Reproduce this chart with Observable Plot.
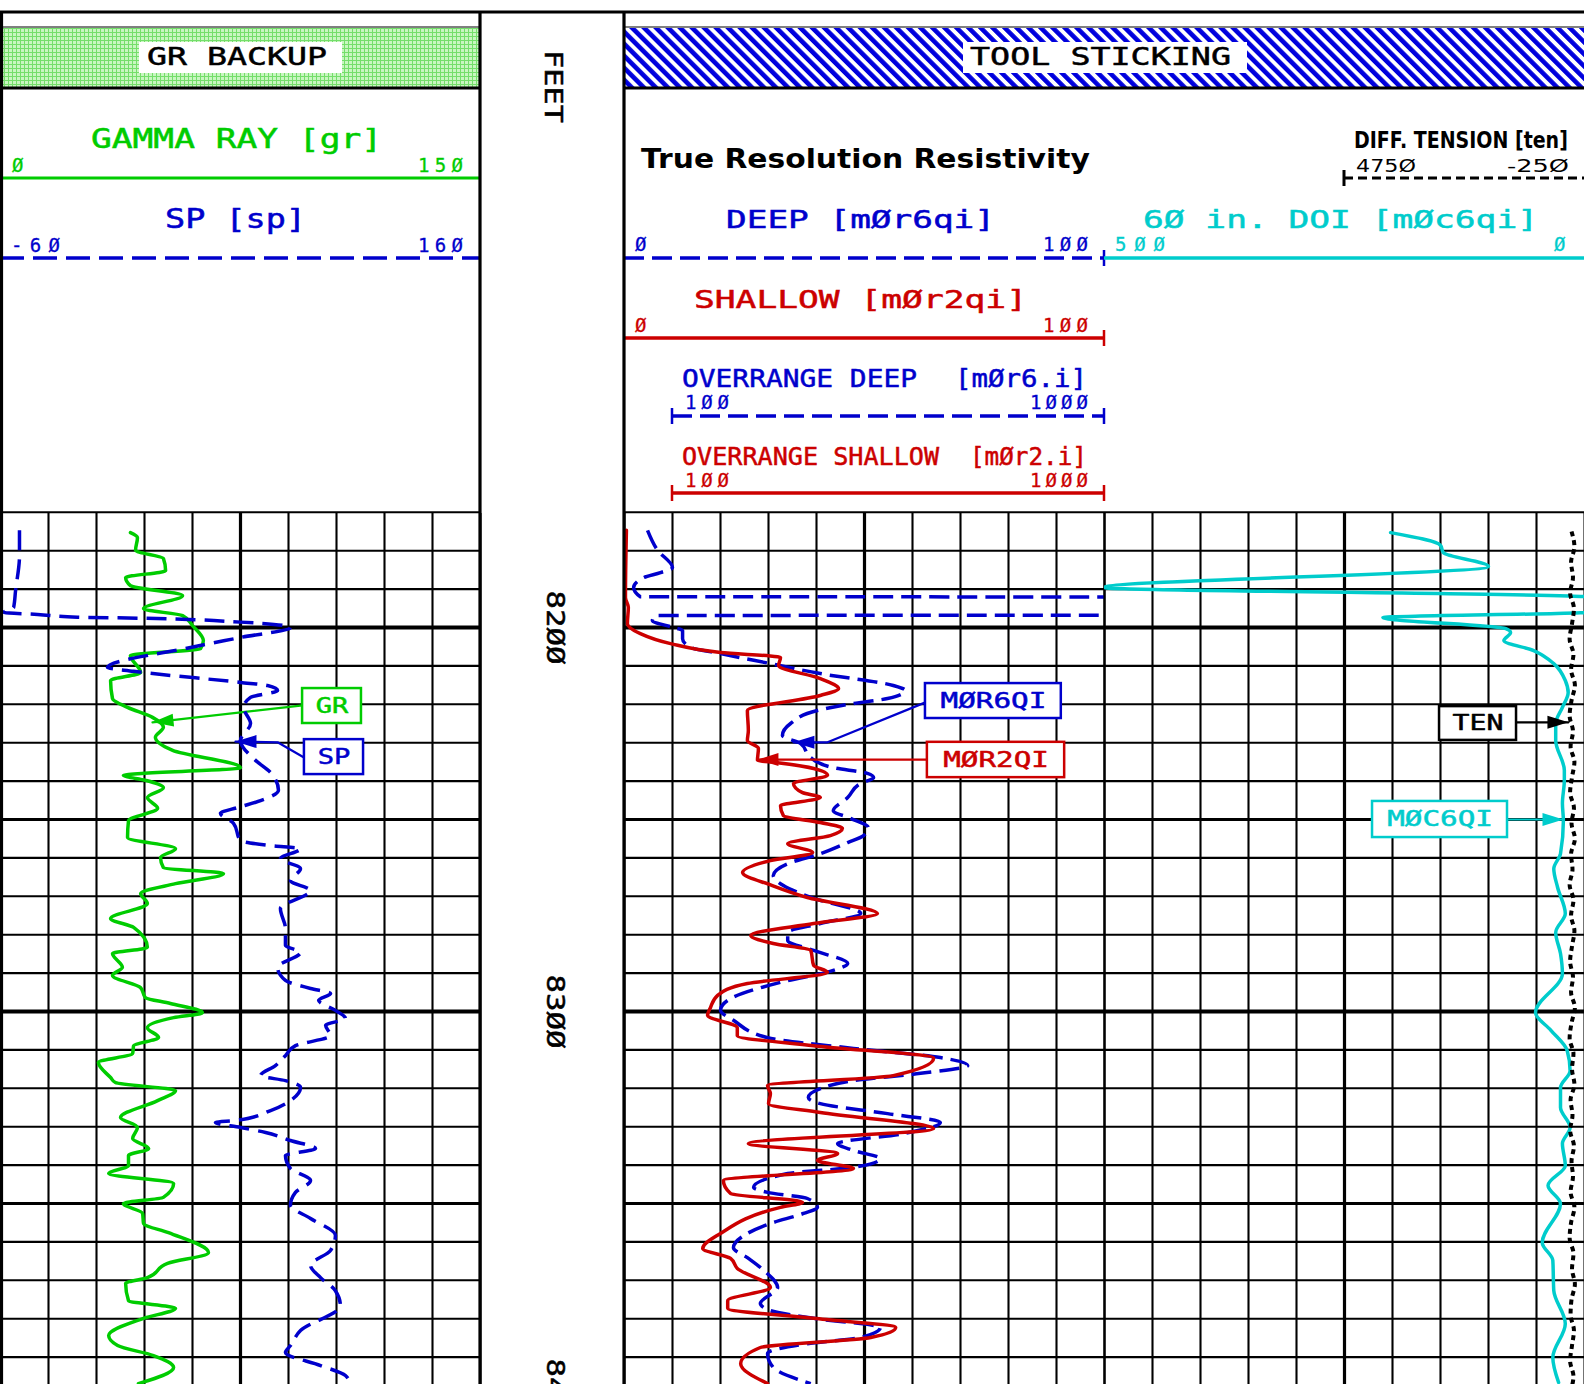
<!DOCTYPE html>
<html><head><meta charset="utf-8">
<script src="https://cdn.jsdelivr.net/npm/d3@7"></script>
<script src="https://cdn.jsdelivr.net/npm/@observablehq/plot@0.6"></script>
<style>
html,body{margin:0;padding:0;background:#fff;}
#root{position:relative;width:1584px;height:1384px;overflow:hidden;background:#fff;}
#root svg{position:absolute;}
</style></head><body><div id="root"></div>
<script>
// ---------------- DATA ----------------
const depthLabels = [8200, 8300, 8400];
// [depth ft, GR api]
const grLog = [[8175.3,40.6],[8176.6,42.8],[8179.9,42.2],[8182.0,50.9],[8185.2,51.6],[8187.0,39.1],[8189.1,40.6],[8191.7,56.9],[8195.1,44.7],[8196.9,56.9],[8199.5,60.0],[8203.4,63.4],[8205.5,62.5],[8207.3,40.6],[8211.7,43.8],[8213.8,34.4],[8218.5,35.0],[8220.8,39.7],[8223.4,47.5],[8226.0,50.9],[8228.6,48.4],[8232.0,53.8],[8236.5,75.0],[8238.5,38.4],[8239.8,45.3],[8241.7,50.9],[8244.3,45.9],[8247.1,49.1],[8250.3,40.0],[8254.7,39.7],[8257.6,54.7],[8259.9,50.0],[8262.5,50.9],[8264.1,69.7],[8266.7,54.7],[8269.3,43.8],[8271.9,45.9],[8275.8,34.4],[8278.1,41.6],[8283.3,45.9],[8284.9,35.0],[8288.5,38.1],[8290.6,35.0],[8293.8,43.8],[8296.4,45.3],[8297.9,53.1],[8300.3,63.1],[8301.6,54.1],[8304.2,45.9],[8306.8,49.4],[8308.9,41.6],[8310.9,41.3],[8313.3,30.6],[8317.2,34.4],[8318.5,35.9],[8320.6,54.7],[8323.2,49.1],[8327.6,37.5],[8330.2,42.8],[8333.1,41.3],[8335.7,46.3],[8337.5,40.0],[8340.1,40.0],[8342.2,33.8],[8344.8,54.1],[8348.4,50.9],[8350.0,38.4],[8352.6,44.4],[8355.2,44.7],[8357.6,52.5],[8362.8,65.0],[8365.6,52.2],[8369.3,45.9],[8370.8,39.1],[8375.3,40.0],[8377.3,54.7],[8379.9,44.7],[8384.4,33.8],[8387.0,36.6],[8389.6,47.8],[8392.7,54.1],[8396.9,43.1]];
// [depth ft, SP mV]
const spLog = [[8174.7,-51.3],[8181.3,-51.3],[8190.4,-53.1],[8194.8,-54.0],[8196.1,-58.6],[8196.6,-43.0],[8197.3,-24.7],[8197.6,5.6],[8198.6,50.0],[8200.0,72.9],[8202.6,50.0],[8205.2,27.1],[8210.4,-11.0],[8211.4,1.0],[8214.3,50.0],[8215.1,62.4],[8216.4,67.0],[8218.2,54.6],[8220.8,51.4],[8225.0,54.6],[8229.4,50.0],[8234.6,56.9],[8237.8,63.8],[8242.4,67.4],[8245.1,59.2],[8246.9,48.6],[8248.4,40.8],[8251.0,46.8],[8255.5,50.0],[8256.8,63.8],[8257.6,77.5],[8260.2,68.3],[8262.8,77.5],[8265.9,72.9],[8268.5,82.1],[8273.2,68.3],[8278.4,70.6],[8282.8,70.6],[8284.6,77.5],[8288.5,67.0],[8291.9,70.6],[8294.0,82.1],[8295.3,91.3],[8297.1,85.8],[8299.7,93.5],[8301.8,98.1],[8303.6,89.0],[8306.3,91.3],[8308.9,75.2],[8311.5,70.6],[8314.1,66.0],[8316.7,59.2],[8318.0,70.6],[8319.8,77.5],[8323.2,72.9],[8325.8,63.8],[8328.4,47.7],[8328.9,38.5],[8330.2,50.0],[8331.5,61.5],[8333.6,72.9],[8335.7,84.4],[8337.5,70.6],[8340.9,72.9],[8344.0,82.1],[8347.1,75.2],[8350.5,72.9],[8353.9,82.1],[8358.3,93.5],[8362.2,91.3],[8366.1,82.1],[8369.3,86.7],[8372.7,93.5],[8376.6,95.8],[8383.1,77.5],[8387.0,72.9],[8388.8,70.6],[8392.2,86.7],[8394.8,98.1],[8397.1,100.4]];
// [depth ft, deep resistivity ohm.m] (values above 100 run off scale)
const deepLog = [[8174.7,4.8],[8179.9,6.9],[8184.4,10.0],[8185.7,7.5],[8187.0,4.0],[8189.6,1.9],[8192.0,3.3],[8192.2,1500],[8196.2,1500],[8196.9,6.5],[8198.2,5.8],[8200.0,10.2],[8200.8,12.1],[8202.9,12.1],[8205.2,13.8],[8206.8,20.0],[8209.4,30.4],[8212.0,40.8],[8215.1,56.0],[8216.4,58.5],[8218.5,54.8],[8219.8,47.7],[8221.6,40.2],[8225.0,34.6],[8228.1,32.9],[8230.2,36.7],[8233.9,38.8],[8236.5,43.5],[8238.0,50.6],[8239.1,51.9],[8240.6,49.2],[8244.3,46.5],[8247.7,43.5],[8249.7,47.1],[8252.1,50.8],[8254.2,49.8],[8256.0,46.5],[8258.9,40.8],[8261.5,34.0],[8264.6,31.0],[8267.2,33.1],[8270.3,38.8],[8274.5,49.2],[8277.1,40.8],[8279.4,34.0],[8281.5,34.0],[8284.1,39.4],[8287.5,46.5],[8289.3,43.5],[8292.4,32.5],[8297.1,21.5],[8299.7,20.0],[8302.3,22.7],[8306.8,29.8],[8309.6,47.7],[8312.0,65.8],[8314.1,71.5],[8316.1,61.7],[8318.0,47.7],[8320.1,40.8],[8322.4,38.3],[8324.0,40.8],[8326.6,54.8],[8328.9,65.8],[8331.8,58.1],[8334.4,44.4],[8336.2,47.7],[8338.3,53.3],[8340.6,47.7],[8342.2,34.0],[8345.8,26.9],[8347.1,29.8],[8348.7,38.1],[8351.0,40.2],[8352.6,37.3],[8355.2,30.4],[8357.8,25.6],[8361.5,22.7],[8364.1,25.6],[8367.4,29.0],[8371.9,31.9],[8376.0,28.3],[8377.9,30.4],[8379.9,39.4],[8382.3,53.3],[8384.9,49.2],[8386.5,38.1],[8389.1,29.8],[8392.7,31.0],[8396.9,38.8]];
// [depth ft, shallow resistivity ohm.m]
const shallowLog = [[8174.7,0.4],[8192.2,0.2],[8194.8,0.8],[8199.0,0.6],[8201.6,3.3],[8204.2,9.6],[8206.5,20.0],[8207.8,32.5],[8209.9,32.1],[8213.3,40.8],[8215.9,44.6],[8217.7,40.8],[8221.6,25.6],[8226.8,25.8],[8229.4,25.6],[8231.5,27.9],[8234.6,27.7],[8235.2,31.9],[8236.7,39.4],[8238.5,42.3],[8240.6,35.2],[8243.0,37.1],[8244.3,40.8],[8246.4,32.5],[8249.0,33.1],[8250.8,40.8],[8252.3,45.4],[8254.2,42.9],[8256.3,34.0],[8258.6,39.2],[8260.7,30.4],[8263.8,24.6],[8267.2,30.8],[8270.3,38.1],[8274.5,52.7],[8277.1,39.4],[8280.2,26.3],[8282.3,31.0],[8284.1,38.8],[8288.0,39.4],[8289.8,42.3],[8292.7,25.6],[8295.8,19.4],[8299.0,17.9],[8301.0,17.3],[8304.2,23.5],[8306.3,23.5],[8308.9,39.4],[8312.2,64.4],[8316.7,56.0],[8319.3,29.8],[8321.4,30.4],[8324.0,30.0],[8326.3,40.8],[8330.5,64.4],[8334.4,25.8],[8337.0,44.4],[8338.8,40.2],[8340.9,47.7],[8344.0,20.6],[8347.4,22.1],[8349.7,37.1],[8351.0,32.5],[8357.8,20.0],[8361.7,16.3],[8364.3,22.1],[8366.9,23.5],[8371.9,30.4],[8375.3,21.5],[8377.3,21.5],[8379.9,39.4],[8382.3,56.5],[8384.9,51.3],[8387.5,28.3],[8391.7,24.2],[8396.9,29.8]];
// [depth ft, 60 in. DOI resistivity] (scale 500 -> 0)
const doiLog = [[8175.3,202],[8178.6,150],[8180.5,147],[8184.1,100],[8189.6,501],[8192.1,-5],[8196.0,-5],[8197.4,210],[8200.3,82],[8201.3,77],[8203.4,84],[8206.0,53],[8209.4,32],[8213.8,20],[8216.9,17],[8220.8,23],[8225.0,30],[8229.4,30],[8237.2,21],[8239.8,21],[8245.8,23],[8250.3,22],[8258.9,25],[8262.8,32],[8267.7,28],[8274.5,20],[8279.4,30],[8284.9,25],[8290.1,23],[8300.3,51],[8304.9,35],[8310.2,18],[8315.4,15],[8319.8,25],[8325.0,25],[8330.2,15],[8334.4,23],[8340.1,20],[8345.3,38],[8350.0,25],[8360.2,44],[8364.8,33],[8372.7,32],[8381.3,20],[8390.1,33],[8396.6,27]];
// [depth ft, differential tension] (scale 4750 -> -250)
const tenLog = [[8175,20],[8179,-40],[8183,30],[8187,-10],[8191,50],[8195,-30],[8199,10],[8203,60],[8207,-20],[8211,30],[8215,-50],[8219,20],[8223,60],[8227,-10],[8231,40],[8235,-40],[8239,10],[8243,50],[8247,-30],[8251,20],[8255,-50],[8259,30],[8263,0],[8267,60],[8271,-20],[8275,30],[8279,-40],[8283,10],[8287,50],[8291,-10],[8295,30],[8299,-50],[8303,20],[8307,60],[8311,-20],[8315,10],[8319,-40],[8323,40],[8327,0],[8331,50],[8335,-30],[8339,20],[8343,-10],[8347,40],[8351,-40],[8355,30],[8359,60],[8363,-20],[8367,10],[8371,-50],[8375,20],[8379,40],[8383,-30],[8387,10],[8391,50],[8395,-20],[8398,20]];
const calloutLabels = ["GR","SP","MØR6QI","MØR2QI","TEN","MØC6QI"];

// ---------------- LAYOUT / STYLE ----------------
const GREEN="#00cc00", BLUE="#0000cc", RED="#cc0000", CYAN="#00cccc", BLACK="#000";
const MONO = "DejaVu Sans Mono, monospace", SANS = "DejaVu Sans, sans-serif";
const D_TOP = 8170.3125, D_BOT = 8397.135;
const calloutColors = [GREEN, BLUE, BLUE, RED, BLACK, CYAN];
// box: [x1, x2, depth1, depth2] in the track's own units; path ends at arrow tip
const calloutLayout = [
  {box:[94.4,112.8,8215.9,8225.0], path:[[94.4,8220.3],[47.5,8224.7]], rot:-96},
  {box:[79.3,106.4,8229.2,8238.3], path:[[79.3,8233.9],[67.0,8229.9],[47.7,8229.7]], rot:-90},
  {box:[62.7,91.0,8214.6,8223.7], path:[[62.7,8219.5],[42.3,8229.9],[35.2,8229.9]], rot:-90},
  {box:[63.1,91.7,8229.9,8239.1], path:[[63.1,8234.4],[27.7,8234.4]], rot:-90},
  {box:[151.0,70.8,8220.6,8229.4], path:[[70.8,8224.7],[16.7,8224.7]], rot:90},
  {box:[220.8,80.2,8245.3,8254.7], path:[[80.2,8250.0],[21.9,8250.0]], rot:90}
];

const root = document.getElementById("root");

// ---------- header + frame underlay ----------
const under = d3.select(root).append("svg").attr("width",1584).attr("height",1384).style("left","0px").style("top","0px");
const defs = under.append("defs");
const pg = defs.append("pattern").attr("id","grn").attr("patternUnits","userSpaceOnUse").attr("width",4).attr("height",4);
pg.append("rect").attr("width",4).attr("height",4).attr("fill","#c8f6c0");
pg.append("rect").attr("width",4).attr("height",1).attr("fill","#74de6a");
pg.append("rect").attr("width",1).attr("height",4).attr("fill","#74de6a");
const ph = defs.append("pattern").attr("id","hatch").attr("patternUnits","userSpaceOnUse").attr("width",8.5).attr("height",8.5).attr("patternTransform","rotate(-45)");
ph.append("rect").attr("width",8.5).attr("height",8.5).attr("fill","#fff");
ph.append("rect").attr("width",4.6).attr("height",8.5).attr("fill","#0000dd");

function L(x1,y1,x2,y2,c,w,dash){const l=under.append("line").attr("x1",x1).attr("y1",y1).attr("x2",x2).attr("y2",y2).attr("stroke",c).attr("stroke-width",w);if(dash)l.attr("stroke-dasharray",dash);return l;}
function R(x,y,w,h,f){return under.append("rect").attr("x",x).attr("y",y).attr("width",w).attr("height",h).attr("fill",f);}
function T(s,x,y,o={}){const c=o.color||BLACK;
  if (o.squeeze) { // condensed text: scale the glyphs horizontally to the measured width
    const g = under.append("g").attr("transform",`translate(${x},${y})`);
    const t = g.append("text").attr("x",0).attr("y",0).text(s).attr("font-family",o.family||MONO)
      .attr("font-size",o.size||25).attr("fill",c);
    if(o.weight)t.attr("font-weight",o.weight);
    const nat = t.node().getComputedTextLength();
    g.attr("transform",`translate(${x},${y}) scale(${o.len/nat},1)`);
    return t;
  }
  const t=under.append("text").attr("x",x).attr("y",y).text(s)
  .attr("font-family",o.family||MONO).attr("font-size",o.size||25).attr("fill",c);
  if(o.weight)t.attr("font-weight",o.weight);
  if(o.sw!==0)t.attr("stroke",c).attr("stroke-width",o.sw||0.5);
  if(o.len)t.attr("textLength",o.len).attr("lengthAdjust",o.adjust||"spacingAndGlyphs");
  return t;}

L(0,12,1584,12,BLACK,3);
L(0,27,480,27,"#555",1.5); L(624,27,1584,27,"#555",1.5);
R(2,28,477,59,"url(#grn)");
R(625,28,960,59,"url(#hatch)");
L(0,88,480,88,BLACK,3); L(624,88,1584,88,BLACK,3);
R(139,42,203,31,"#fff"); R(963,42,284,31,"#fff");
T("GR BACKUP",147,65,{size:25,len:180});
T("TOOL STICKING",970,65,{size:25,len:261});
under.append("text").attr("transform","translate(545,50) rotate(90)").text("FEET")
  .attr("font-family",MONO).attr("font-size",25).attr("fill",BLACK).attr("stroke",BLACK).attr("stroke-width",0.5)
  .attr("textLength",73).attr("lengthAdjust","spacingAndGlyphs");

// track 1 header
T("GAMMA RAY [gr]",91,148,{size:26,color:GREEN,len:291});
T("Ø",12,172,{size:19,color:GREEN,sw:0.3});
T("15Ø",418,172,{size:19,color:GREEN,len:45,adjust:"spacing",sw:0.3});
L(0,178,480,178,GREEN,3);
T("SP [sp]",165,228,{size:26,color:BLUE,len:141});
T("-6Ø",11,252,{size:19,color:BLUE,len:49,adjust:"spacing",sw:0.3});
T("16Ø",418,252,{size:19,color:BLUE,len:45,adjust:"spacing",sw:0.3});
L(0,258,480,258,BLUE,3.5,"24,9");

// track 2/3 header
T("True Resolution Resistivity",641,168,{size:27,weight:"bold",family:SANS,len:449,squeeze:true});
T("DIFF. TENSION [ten]",1354,148,{size:23,weight:"bold",family:SANS,len:214,squeeze:true});
T("475Ø",1356,172,{size:18,family:SANS,len:60,squeeze:true});
T("-25Ø",1507,172,{size:18,family:SANS,len:62,squeeze:true});
L(1344,178,1584,178,BLACK,3,"9,5"); L(1344,170,1344,186,BLACK,3);
T("DEEP [mØr6qi]",726,228,{size:25,color:BLUE,len:269});
T("Ø",635,251,{size:19,color:BLUE,sw:0.3});
T("1ØØ",1043,251,{size:19,color:BLUE,len:45,adjust:"spacing",sw:0.3});
L(624,258,1104,258,BLUE,3.5,"20,8"); L(1104,250,1104,266,BLUE,2.5);
T("6Ø in. DOI [mØc6qi]",1143,228,{size:25,color:CYAN,len:395});
T("5ØØ",1115,251,{size:19,color:CYAN,len:50,adjust:"spacing",sw:0.3});
T("Ø",1554,251,{size:19,color:CYAN,sw:0.3});
L(1104,258,1584,258,CYAN,3.5);
T("SHALLOW [mØr2qi]",694,308,{size:25,color:RED,len:333});
T("Ø",635,332,{size:19,color:RED,sw:0.3});
T("1ØØ",1043,332,{size:19,color:RED,len:45,adjust:"spacing",sw:0.3});
L(624,338,1104,338,RED,3.5); L(1104,330,1104,346,RED,2.5);
T("OVERRANGE DEEP",682,387,{size:25,color:BLUE,len:235});
T("[mØr6.i]",955,387,{size:25,color:BLUE,len:132});
T("1ØØ",685,409,{size:19,color:BLUE,len:44,adjust:"spacing",sw:0.3});
T("1ØØØ",1030,409,{size:19,color:BLUE,len:58,adjust:"spacing",sw:0.3});
L(672,416,1104,416,BLUE,3.5,"20,8"); L(672,408,672,424,BLUE,2.5); L(1104,408,1104,424,BLUE,2.5);
T("OVERRANGE SHALLOW",682,465,{size:25,color:RED,len:257});
T("[mØr2.i]",970,465,{size:25,color:RED,len:117});
T("1ØØ",685,487,{size:19,color:RED,len:44,adjust:"spacing",sw:0.3});
T("1ØØØ",1030,487,{size:19,color:RED,len:58,adjust:"spacing",sw:0.3});
L(672,493,1104,493,RED,3.5); L(672,485,672,501,RED,2.5); L(1104,485,1104,501,RED,2.5);

// ---------- body tracks (Plot) ----------
const gridDepths = d3.range(8170, 8400, 10);
const arrowHead = {draw(ctx){ctx.moveTo(0,0);ctx.lineTo(6.5,21);ctx.lineTo(-6.5,21);ctx.closePath();}};

function gridMarks(xTicks, center) {
  return [
    Plot.ruleY(gridDepths, {y: d=>d, stroke: BLACK, strokeWidth: d => d%100===0 ? 4 : (d%50===0 ? 3 : 2.1)}),
    Plot.ruleX(xTicks, {x: d=>d, stroke: BLACK, strokeWidth: d => d===center ? 3.2 : 2.1})
  ];
}
function curve(data, color, dash, w=3.5) {
  return Plot.line(data, {x: d=>d[1], y: d=>d[0], stroke: color, strokeWidth: w, curve: "monotone-y",
    clip: true, strokeDasharray: dash, strokeLinecap: dash ? "butt" : "round", strokeLinejoin: "round"});
}
function calloutMarks(i) {
  const Lo = calloutLayout[i], c = calloutColors[i], lab = calloutLabels[i];
  const tip = Lo.path[Lo.path.length-1];
  const cx = (Lo.box[0]+Lo.box[1])/2, cy = (Lo.box[2]+Lo.box[3])/2;
  return [
    Plot.line(Lo.path, {x: d=>d[0], y: d=>d[1], stroke: c, strokeWidth: 2.2}),
    Plot.dot([tip], {x: d=>d[0], y: d=>d[1], symbol: arrowHead, r: 7, fill: c, stroke: "none", rotate: Lo.rot}),
    Plot.rect([Lo.box], {x1: d=>d[0], x2: d=>d[1], y1: d=>d[2], y2: d=>d[3], fill: "white", stroke: c, strokeWidth: 2.5}),
    Plot.text([lab], {x: () => cx, y: () => cy, text: d=>d, fill: c, stroke: c, strokeWidth: 0.5, fontSize: 21, fontFamily: MONO})
  ];
}
function track(left, width, xDomain, marks, textFix) {
  const svg = Plot.plot({
    width, height: 884, marginTop: 13, marginBottom: 0, marginLeft: 0, marginRight: 0,
    x: {domain: xDomain, axis: null},
    y: {domain: [D_TOP, D_BOT], reverse: true, axis: null},
    style: {position: "absolute", left: left+"px", top: "500px", background: "transparent", overflow: "visible", maxWidth: "none"},
    marks
  });
  if (textFix) d3.select(svg).selectAll("text").each(function() { textFix(d3.select(this)); });
  root.appendChild(svg);
  return svg;
}
// stretch callout labels to the plotter-font widths (18.3 px per character)
const calloutText = t => t.attr("textLength", t.text().length * 18.3 - 4).attr("lengthAdjust", "spacingAndGlyphs");

// Track 1: GR (0-150) with grid
track(0, 480, [0,150], [
  ...gridMarks(d3.range(0,151,15), 75),
  curve(grLog, GREEN, null),
  ...calloutMarks(0)
], calloutText);
// Track 1 overlay: SP (-60..160)
track(0, 480, [-60,160], [
  curve(spLog, BLUE, "20,9"),
  ...calloutMarks(1)
], calloutText);
// Depth track
track(480, 144, [0,1], [
  Plot.text(depthLabels, {x: () => 0.514, y: d=>d, text: d => String(d).replace(/0/g,"Ø"),
    rotate: 90, fontSize: 25, fontFamily: MONO, fill: BLACK, stroke: BLACK, strokeWidth: 0.5})
], t => t.attr("textLength", 74).attr("lengthAdjust", "spacingAndGlyphs"));
// Track 2: resistivity 0-100
track(624, 480, [0,100], [
  ...gridMarks(d3.range(0,101,10), 50),
  curve(deepLog, BLUE, "20,8"),
  curve(shallowLog, RED, null),
  ...calloutMarks(2),
  ...calloutMarks(3)
], calloutText);
// Track 3: 60in DOI 500 -> 0
track(1104, 480, [500,0], [
  ...gridMarks(d3.range(0,501,50), 250),
  curve(doiLog, CYAN, null),
  ...calloutMarks(4),
  ...calloutMarks(5)
], calloutText);
// Tension overlay (right half of track 3): 4750 -> -250
track(1344, 240, [4750,-250], [
  curve(tenLog, BLACK, "5,4", 4)
]);

// ---------- track borders overlay ----------
const over = d3.select(root).append("svg").attr("width",1584).attr("height",1384).style("left","0px").style("top","0px").style("pointer-events","none");
[1.5, 480, 624].forEach(x => over.append("line").attr("x1",x).attr("x2",x).attr("y1",11).attr("y2",1384).attr("stroke",BLACK).attr("stroke-width",3.2));
</script></body></html>
